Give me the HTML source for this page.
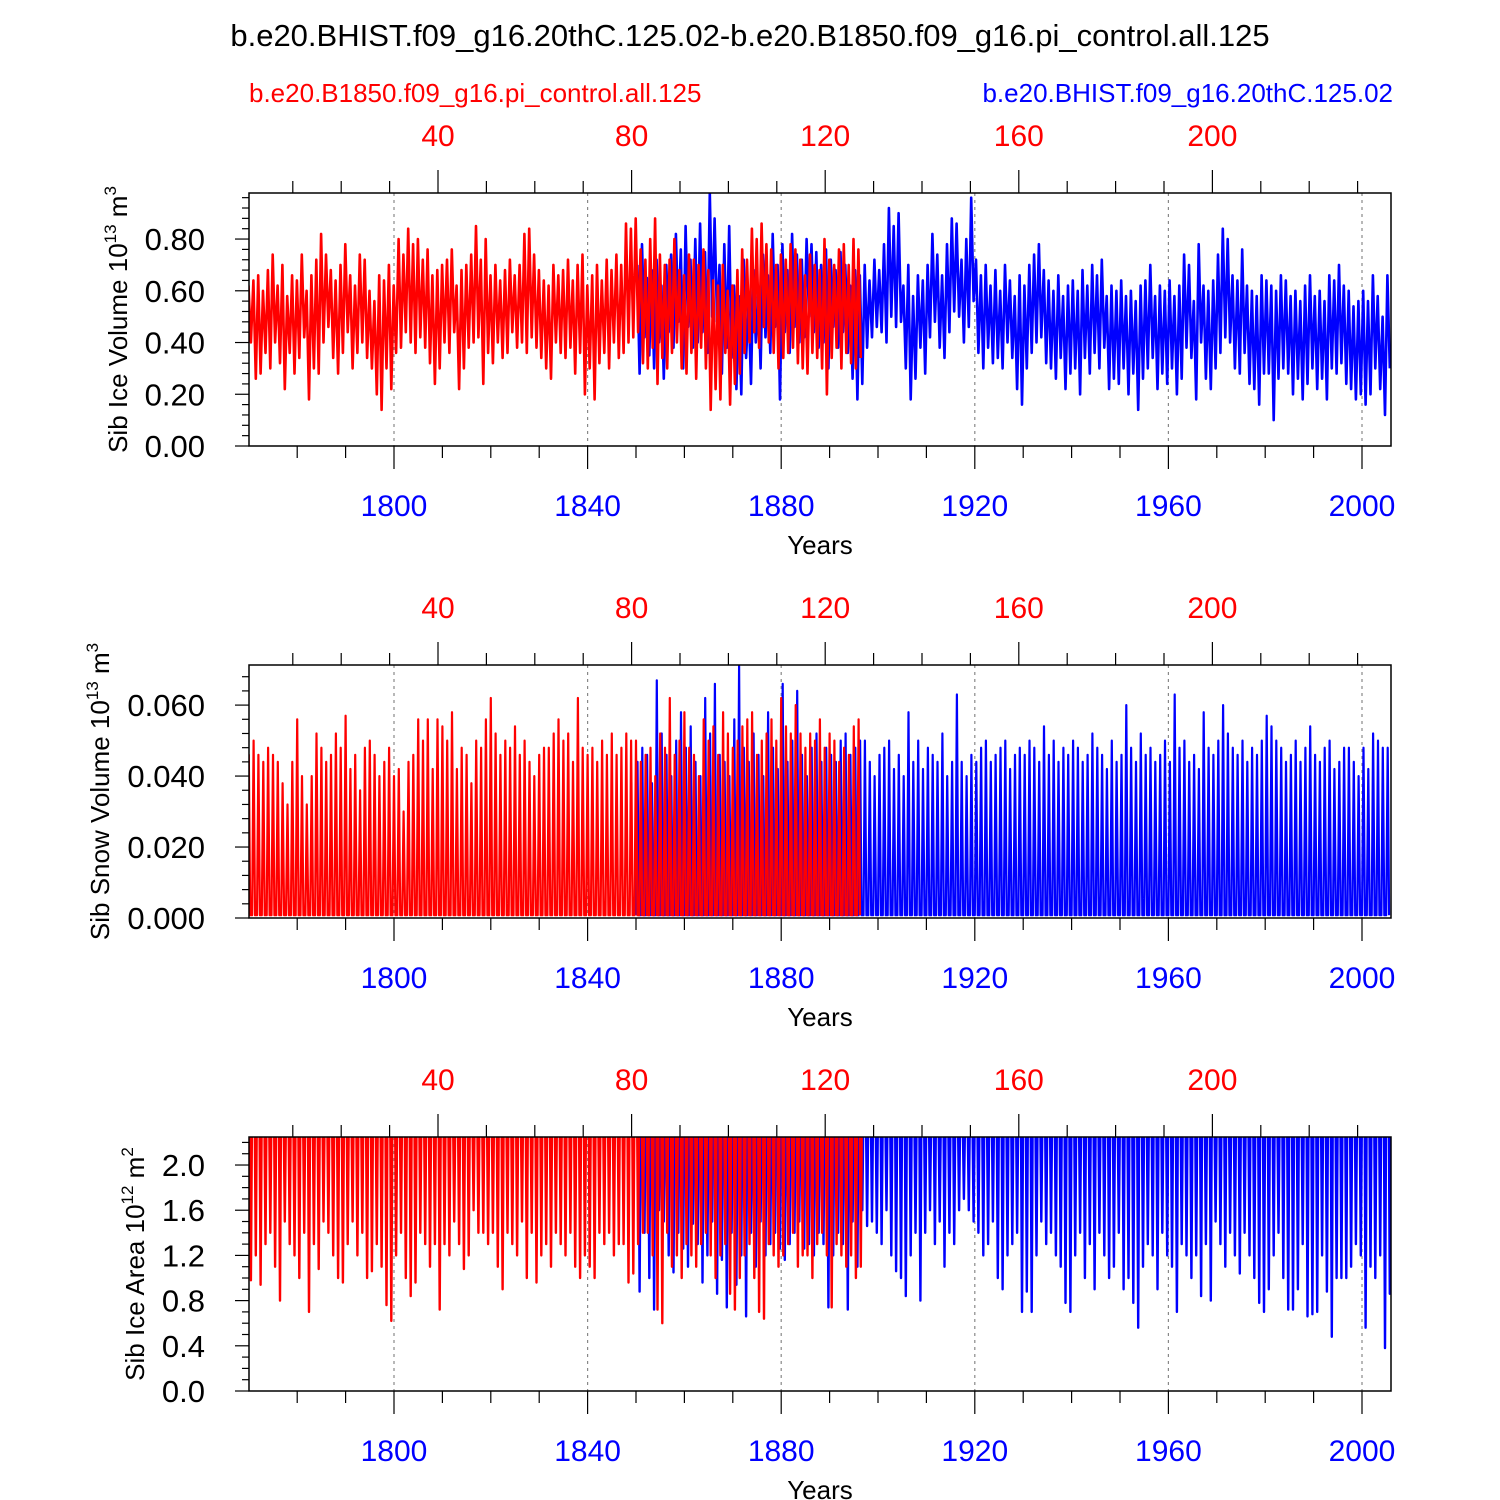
<!DOCTYPE html>
<html><head><meta charset="utf-8">
<style>
html,body{margin:0;padding:0;background:#fff;}
svg{display:block;font-family:"Liberation Sans",Arial,sans-serif;}
</style></head>
<body>
<svg id="chart" width="1500" height="1500" viewBox="0 0 1500 1500" xmlns="http://www.w3.org/2000/svg">
<text x="750" y="46" font-size="31" text-anchor="middle" fill="#000">b.e20.BHIST.f09_g16.20thC.125.02-b.e20.B1850.f09_g16.pi_control.all.125</text>
<text x="249" y="102" font-size="26" fill="#ff0000">b.e20.B1850.f09_g16.pi_control.all.125</text>
<text x="1393" y="102" font-size="26" text-anchor="end" fill="#0000ff">b.e20.BHIST.f09_g16.20thC.125.02</text>
</svg>
<script>
// ---- data (yearly max / min) ----
const blueYears0 = 1850;
const blueVolMax = [.70,.78,.65,.68,.72,.62,.70,.74,.82,.76,.85,.72,.80,.86,.75,.98,.88,.70,.78,.85,.62,.58,.72,.55,.68,.60,.74,.66,.82,.70,.78,.68,.82,.74,.72,.80,.78,.75,.70,.76,.72,.68,.75,.70,.62,.68,.66,.70,.64,.72,.68,.78,.92,.85,.90,.62,.70,.58,.66,.64,.70,.82,.74,.66,.78,.88,.86,.72,.80,.96,.72,.66,.70,.62,.68,.60,.70,.64,.58,.66,.62,.70,.74,.78,.68,.64,.60,.66,.58,.62,.64,.60,.68,.62,.70,.66,.72,.58,.62,.60,.64,.58,.60,.56,.62,.64,.70,.58,.62,.60,.64,.58,.62,.74,.70,.56,.78,.62,.60,.64,.74,.84,.80,.66,.64,.76,.62,.60,.58,.66,.64,.62,.60,.66,.64,.58,.60,.56,.62,.66,.58,.60,.56,.66,.64,.70,.62,.60,.54,.56,.60,.56,.66,.58,.50,.66];
const blueVolMin = [.28,.42,.35,.30,.40,.26,.44,.38,.48,.30,.46,.38,.40,.44,.36,.50,.48,.28,.38,.34,.22,.20,.34,.24,.40,.30,.42,.36,.46,.18,.44,.36,.46,.40,.42,.50,.44,.38,.40,.30,.46,.38,.44,.36,.26,.18,.24,.38,.42,.46,.44,.40,.50,.46,.48,.30,.18,.26,.38,.28,.42,.48,.38,.34,.44,.52,.50,.40,.46,.56,.36,.30,.38,.32,.34,.30,.40,.34,.22,.16,.30,.36,.40,.42,.32,.30,.26,.34,.22,.28,.30,.20,.34,.28,.36,.30,.38,.22,.26,.24,.30,.20,.28,.14,.26,.30,.34,.22,.28,.24,.30,.20,.26,.38,.34,.18,.40,.26,.22,.30,.36,.42,.40,.30,.28,.36,.24,.22,.16,.28,.28,.10,.26,.30,.28,.20,.26,.18,.24,.30,.22,.26,.18,.30,.28,.32,.24,.22,.18,.20,.16,.20,.30,.22,.12,.30];
const redVolMax = [.62,.64,.66,.60,.68,.74,.62,.70,.58,.66,.64,.74,.60,.66,.72,.82,.74,.68,.64,.70,.78,.66,.62,.74,.72,.60,.56,.66,.64,.70,.62,.80,.74,.84,.78,.80,.72,.76,.66,.68,.70,.72,.76,.62,.68,.70,.74,.85,.72,.80,.66,.70,.64,.68,.72,.66,.70,.82,.84,.74,.68,.64,.62,.70,.66,.68,.72,.64,.70,.74,.62,.66,.70,.64,.72,.68,.74,.70,.86,.84,.88,.76,.72,.80,.88,.74,.70,.72,.80,.68,.66,.74,.72,.70,.76,.68,.64,.62,.70,.60,.62,.68,.76,.72,.84,.80,.86,.78,.76,.70,.74,.72,.78,.76,.72,.66,.74,.70,.68,.80,.72,.70,.76,.78,.70,.80,.76];
const redVolMin = [.40,.26,.28,.36,.30,.40,.32,.22,.36,.28,.34,.42,.18,.30,.28,.40,.46,.34,.28,.36,.44,.30,.36,.40,.34,.30,.20,.14,.30,.22,.36,.38,.44,.40,.36,.42,.38,.32,.24,.30,.40,.36,.44,.22,.30,.38,.40,.42,.24,.36,.32,.40,.34,.36,.44,.38,.40,.36,.42,.38,.34,.30,.26,.40,.36,.34,.38,.28,.36,.20,.30,.18,.32,.36,.30,.40,.34,.36,.40,.42,.44,.32,.30,.38,.24,.34,.30,.36,.40,.30,.28,.36,.26,.38,.30,.14,.22,.18,.36,.16,.24,.28,.36,.40,.44,.38,.46,.40,.36,.30,.34,.36,.38,.32,.30,.28,.36,.34,.30,.20,.34,.38,.30,.36,.32,.30,.34];
// snow max in units of 0.001 x 1e13 m3
const blueSnowMax = [44,48,46,38,67,52,46,40,50,58,48,54,44,40,62,52,66,46,44,40,56,71,48,44,52,46,40,58,48,42,66,44,50,64,46,40,48,52,44,48,46,44,50,52,46,48,50,50,44,40,46,48,50,42,46,40,58,44,50,42,48,46,44,52,40,44,63,44,40,46,44,48,50,44,46,48,50,42,46,48,46,50,48,44,54,46,50,44,48,46,50,48,44,46,52,48,46,42,50,44,46,60,48,44,52,46,48,44,46,50,44,63,48,50,44,46,42,58,48,46,50,60,52,48,46,50,44,48,46,50,57,54,50,48,44,46,50,44,48,54,46,44,48,50,42,44,48,48,44,40,48,42,52,50,48,48];
const redSnowMax = [46,50,46,44,48,46,44,38,32,44,56,40,32,40,52,48,44,46,52,48,57,42,46,36,48,50,46,40,44,48,40,42,30,44,46,56,50,56,42,56,54,50,58,42,48,46,38,50,48,56,62,52,46,50,48,54,46,50,44,40,46,48,48,52,56,50,52,44,62,48,46,48,44,50,46,52,46,48,52,50,50,44,46,48,40,52,48,62,46,50,58,48,46,40,56,50,54,46,58,52,48,50,54,56,58,46,50,52,56,50,62,54,52,60,52,48,52,50,56,48,52,50,44,48,46,54,56];
// ice area minima in units of 0.01 x 1e12 m2
const blueAreaMin = [88,140,100,72,160,150,120,105,140,126,110,148,130,96,120,150,86,116,74,140,94,120,66,140,110,150,120,130,140,126,116,130,140,150,126,130,120,140,130,74,120,140,130,72,150,110,160,146,150,140,130,160,120,106,100,84,120,140,80,140,160,130,150,110,140,130,160,170,160,150,140,120,130,150,100,90,120,130,140,70,88,70,120,150,130,140,120,110,78,70,120,140,100,130,90,140,120,100,110,140,90,100,78,56,110,130,120,90,140,120,110,70,130,120,100,120,84,130,80,150,130,110,140,120,104,140,120,100,78,70,90,120,140,100,72,72,90,130,66,68,70,120,88,48,100,100,100,110,130,120,56,110,100,120,38,86];
const redAreaMin = [98,120,94,130,140,110,80,150,130,120,100,140,70,130,108,150,140,120,100,96,130,150,120,140,100,106,130,110,76,62,120,140,100,84,96,140,130,110,130,72,130,120,150,130,108,120,160,140,140,130,140,110,90,140,130,120,150,100,140,96,120,130,110,140,130,120,140,110,100,120,110,100,140,130,140,120,130,130,96,104,130,140,140,120,72,60,140,110,120,100,130,120,110,130,140,120,100,120,130,86,72,100,120,130,100,70,64,130,120,110,120,130,140,110,120,120,100,130,140,120,74,130,120,110,120,100,110];
const areaCap = [2.3];
const blueTickLabels = [1800,1840,1880,1920,1960,2000];
const redTickLabels = [40,80,120,160,200];

// ---- layout ----
const NS = "http://www.w3.org/2000/svg";
const svg = document.getElementById('chart');
const X0 = 249, X1 = 1391;
const xBlue = y => 394 + (y - 1800) * 4.84;
const xRed = r => 438 + (r - 40) * 4.84;
const panels = [
  {top:193, bot:446, ymax:0.978, major:0.2, minor:0.04, fmt:v=>v.toFixed(2), title:"Sib Ice Volume 10", sup:"13", unit:" m", usup:"3", name:"ice-volume"},
  {top:665, bot:918, ymax:0.0713, major:0.02, minor:0.004, fmt:v=>v.toFixed(3), title:"Sib Snow Volume 10", sup:"13", unit:" m", usup:"3", name:"snow-volume"},
  {top:1137, bot:1391, ymax:2.248, major:0.4, minor:0.1, fmt:v=>v.toFixed(1), title:"Sib Ice Area 10", sup:"12", unit:" m", usup:"2", name:"ice-area"}
];
function mk(tag, attrs, parent){
  const e = document.createElementNS(NS, tag);
  for (const k in attrs) e.setAttribute(k, attrs[k]);
  (parent||svg).appendChild(e);
  return e;
}
panels.forEach((p, pi) => {
  const ys = v => p.bot - v / p.ymax * (p.bot - p.top);
  const g = mk('g', {});
  
  
  const clipId = 'clip' + pi;
  const cp = mk('clipPath', {id: clipId}, g);
  mk('rect', {x:X0, y:p.top, width:X1-X0, height:p.bot-p.top}, cp);
  blueTickLabels.forEach(y => {
    const l = mk('line', {x1:xBlue(y), x2:xBlue(y), y1:p.top, y2:p.bot, stroke:'#888', 'stroke-width':1.2, 'stroke-dasharray':'3,4'}, g);
    
    
  });
  function series(pts, color, nm, w){
    const pl = mk('polyline', {points: pts.map(q => q[0].toFixed(1)+','+q[1].toFixed(1)).join(' '), fill:'none', stroke:color, 'stroke-width':w, 'stroke-linejoin':'round', 'clip-path':'url(#'+clipId+')'}, g);
    
    
  }
  function build(maxArr, minArr, xf, start, kind){
    const pts = [];
    const n = (maxArr || minArr).length;
    for (let i = 0; i < n; i++){
      const t = start + i;
      if (kind === 'vol'){
        pts.push([xf(t+0.25), ys(maxArr[i])]);
        pts.push([xf(t+0.75), ys(minArr[i])]);
      } else if (kind === 'snow'){
        pts.push([xf(t), ys(0.0008)]);
        pts.push([xf(t+0.3), ys(maxArr[i]/1000)]);
        pts.push([xf(t+0.6), ys(0.0008)]);
      } else {
        pts.push([xf(t), ys(areaCap[0])]);
        pts.push([xf(t+0.55), ys(areaCap[0])]);
        pts.push([xf(t+0.75), ys(minArr[i]/100)]);
        pts.push([xf(t+0.95), ys(areaCap[0])]);
      }
    }
    return pts;
  }
  if (pi === 0){
    series(build(blueVolMax, blueVolMin, xBlue, blueYears0, 'vol'), '#0000ff', 'blue-series-line', 2.6);
    series(build(redVolMax, redVolMin, xRed, 0.6, 'vol'), '#ff0000', 'red-series-line', 2.6);
  } else if (pi === 1){
    series(build(blueSnowMax, null, xBlue, blueYears0, 'snow'), '#0000ff', 'blue-series-line', 2.2);
    series(build(redSnowMax, null, xRed, 0.6, 'snow'), '#ff0000', 'red-series-line', 2.2);
  } else {
    series(build(null, blueAreaMin, xBlue, blueYears0, 'area'), '#0000ff', 'blue-series-line', 2.4);
    series(build(null, redAreaMin, xRed, 0.6, 'area'), '#ff0000', 'red-series-line', 2.4);
  }
  const fr = mk('rect', {x:X0, y:p.top, width:X1-X0, height:p.bot-p.top, fill:'none', stroke:'#000', 'stroke-width':1.5}, g);
  
  
  const nMinor = Math.floor(p.ymax / p.minor + 1e-6);
  for (let k = 0; k <= nMinor; k++){
    const v = k * p.minor, y = ys(v);
    const isMaj = Math.abs(v / p.major - Math.round(v / p.major)) < 1e-6;
    mk('line', {x1:X0, x2:X0-(isMaj?14:7), y1:y, y2:y, stroke:'#000', 'stroke-width':1.2}, g);
    if (isMaj){
      const t = mk('text', {x:X0-44, y:y+11, 'font-size':31, 'text-anchor':'end', fill:'#000'}, g);
      t.textContent = p.fmt(v);
      
      
    }
  }
  for (let y = 1780; y <= 2000; y += 10){
    const x = xBlue(y), maj = (y - 1800) % 40 === 0;
    mk('line', {x1:x, x2:x, y1:p.bot, y2:p.bot+(maj?23:12), stroke:'#000', 'stroke-width':1.2}, g);
  }
  blueTickLabels.forEach(y => {
    const t = mk('text', {x:xBlue(y), y:p.bot+70, 'font-size':30, 'text-anchor':'middle', fill:'#0000ff'}, g);
    t.textContent = y;
    
    
  });
  for (let r = 10; r <= 230; r += 10){
    const x = xRed(r), maj = r % 40 === 0;
    if (x < X0 || x > X1) continue;
    mk('line', {x1:x, x2:x, y1:p.top, y2:p.top-(maj?23:12), stroke:'#000', 'stroke-width':1.2}, g);
  }
  redTickLabels.forEach(r => {
    const t = mk('text', {x:xRed(r), y:p.top-47, 'font-size':30, 'text-anchor':'middle', fill:'#ff0000'}, g);
    t.textContent = r;
    
    
  });
  const xt = mk('text', {x:820, y:p.bot+108, 'font-size':26, 'text-anchor':'middle', fill:'#000'}, g);
  xt.textContent = 'Years';
  
  
  const cy = (p.top + p.bot) / 2;
  const tx = pi === 0 ? 127 : (pi === 1 ? 109 : 144);
  const yt = mk('text', {x:tx, y:cy, 'font-size':26, 'text-anchor':'middle', fill:'#000', transform:'rotate(-90 '+tx+' '+cy+')'}, g);
  
  
  const s1 = document.createElementNS(NS, 'tspan'); s1.textContent = p.title; yt.appendChild(s1);
  const s2 = document.createElementNS(NS, 'tspan'); s2.setAttribute('dy', '-11'); s2.setAttribute('font-size', '17'); s2.textContent = p.sup; yt.appendChild(s2);
  const s3 = document.createElementNS(NS, 'tspan'); s3.setAttribute('dy', '11'); s3.textContent = p.unit; yt.appendChild(s3);
  const s4 = document.createElementNS(NS, 'tspan'); s4.setAttribute('dy', '-11'); s4.setAttribute('font-size', '17'); s4.textContent = p.usup; yt.appendChild(s4);
});
</script>
</body></html>
